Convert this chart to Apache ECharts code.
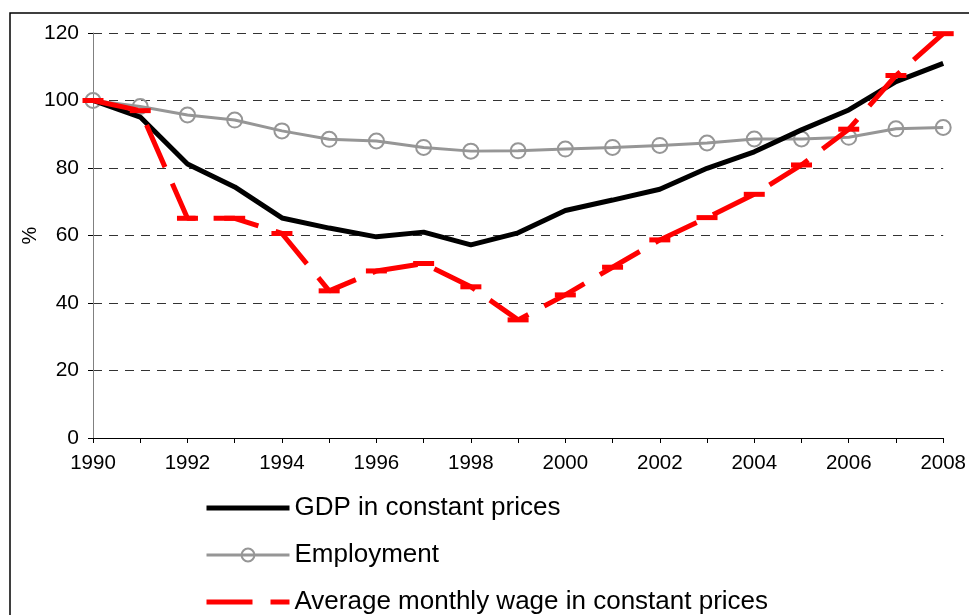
<!DOCTYPE html>
<html>
<head>
<meta charset="utf-8">
<script src="https://cdn.jsdelivr.net/npm/echarts@6/dist/echarts.min.js"></script>
<style>
  html, body { margin: 0; padding: 0; background: #fff; }
  #main { width: 969px; height: 615px; }
</style>
</head>
<body>
<div id="main"></div>
<script>
// 年份
var years = ['1990','1991','1992','1993','1994','1995','1996','1997','1998','1999',
             '2000','2001','2002','2003','2004','2005','2006','2007','2008'];
// GDP（不变价格）
var gdp = [100, 95.1, 81.2, 74.4, 65.2, 62.2, 59.6, 61.0, 57.2, 60.8,
           67.4, 70.5, 73.7, 79.9, 84.8, 91.3, 97.2, 105.6, 111.0];
// 就业
var employment = [100, 98.2, 95.7, 94.2, 91.0, 88.5, 88.0, 86.1, 85.0, 85.1,
                  85.6, 86.1, 86.7, 87.4, 88.6, 88.6, 89.1, 91.6, 92.0];
// 平均月工资（不变价格）
var wage = [100, 97.0, 65.1, 65.1, 60.6, 43.6, 49.5, 51.7, 44.8, 35.0,
            42.4, 50.6, 58.7, 65.3, 72.2, 80.9, 91.5, 107.4, 119.8];
var names = ['GDP in constant prices', 'Employment', 'Average monthly wage in constant prices'];

var font = 'Liberation Sans, Arial, sans-serif';
var myChart = echarts.init(document.getElementById('main'));
var option = {
    backgroundColor: '#fff',
    animation: false,
    // 外框
    graphic: [{
        type: 'rect',
        shape: { x: 10, y: 13, width: 1000, height: 700 },
        style: { fill: 'none', stroke: '#000', lineWidth: 1.5 },
        silent: true
    }],
    grid: { left: 93, right: 25, top: 33, bottom: 177 },
    // 图例（竖排）
    legend: {
        data: [
            { name: names[0], itemStyle: { opacity: 0 } },
            { name: names[1] },
            { name: names[2], itemStyle: { opacity: 0 } }
        ],
        orient: 'vertical',
        left: 204,
        top: 495,
        height: 140,
        padding: 0,
        itemWidth: 83,
        itemHeight: 16,
        itemGap: 21,
        lineStyle: { width: 'inherit', type: 'inherit' },
        textStyle: { fontFamily: font, fontSize: 26, color: '#000' }
    },
    xAxis: {
        type: 'category',
        data: years,
        boundaryGap: false,
        axisLine: { lineStyle: { color: '#000', width: 1 } },
        axisTick: { interval: 0, length: 5, lineStyle: { color: '#000' } },
        axisLabel: { interval: 1, fontFamily: font, fontSize: 20.5, color: '#000', margin: 15 },
        splitLine: { show: false }
    },
    yAxis: {
        type: 'value',
        min: 0,
        max: 120,
        interval: 20,
        name: '%',
        nameLocation: 'middle',
        nameGap: 53,
        nameMoveOverlap: false,
        nameRotate: 90,
        nameTextStyle: { fontFamily: font, fontSize: 20, color: '#000' },
        axisLine: { show: true, lineStyle: { color: '#808080', width: 1 } },
        axisTick: { show: true, length: 5, lineStyle: { color: '#000' } },
        axisLabel: { fontFamily: font, fontSize: 21, color: '#000', margin: 14 },
        splitLine: { lineStyle: { color: '#333', type: [9, 7], width: 1 } }
    },
    series: [
        {
            name: names[1],
            type: 'line',
            data: employment,
            z: 2,
            symbol: 'circle',
            symbolSize: 15,
            showAllSymbol: true,
            lineStyle: { color: '#969696', width: 3 },
            itemStyle: { color: 'rgba(255,255,255,0)', borderColor: '#969696', borderWidth: 2 }
        },
        {
            name: names[0],
            type: 'line',
            data: gdp,
            z: 3,
            symbol: 'none',
            lineStyle: { color: '#000', width: 5 },
            itemStyle: { color: '#000' }
        },
        {
            name: names[2],
            type: 'line',
            data: wage,
            z: 4,
            symbol: 'rect',
            symbolSize: [21, 5],
            showAllSymbol: true,
            lineStyle: { color: '#ff0000', width: 5, type: [46, 18] },
            itemStyle: { color: '#ff0000' }
        }
    ]
};
myChart.setOption(option);
</script>
</body>
</html>
